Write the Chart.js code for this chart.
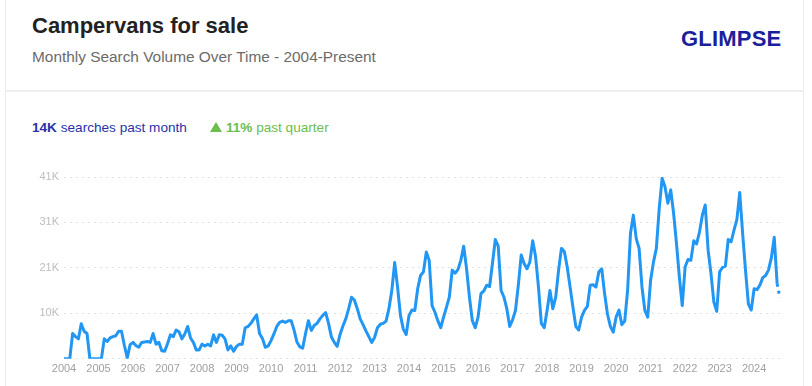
<!DOCTYPE html>
<html>
<head>
<meta charset="utf-8">
<script src="https://cdn.jsdelivr.net/npm/chart.js@4.4.1/dist/chart.umd.min.js"></script>
<style>
    body { margin: 0; width: 812px; height: 386px; overflow: hidden; background: #fff; font-family: "Liberation Sans", Arial, sans-serif; }
    .card { position: absolute; left: 5px; top: -2px; width: 797px; height: 392px; border-left: 1px solid #ebebeb; border-right: 1px solid #ebebeb; }
    .title { position: absolute; left: 32px; top: 15px; font-size: 22px; line-height: 22px; font-weight: bold; color: #222; }
    .subtitle { position: absolute; left: 32px; top: 49px; font-size: 15.4px; line-height: 16px; color: #6b6b6b; }
    .logo { position: absolute; left: 681px; top: 28px; font-size: 22px; line-height: 22px; font-weight: bold; color: #1c1f9c; letter-spacing: 0.2px; }
    .sep { position: absolute; left: 5px; top: 90px; width: 799px; height: 2px; background: #eeeeee; }
    .stats { position: absolute; left: 32px; top: 121px; font-size: 13.6px; line-height: 14px; white-space: nowrap; }
    .blue { color: #2633a8; }
    .green { color: #6bbd4e; margin-left: 23px; }
    .tri { display: inline-block; width: 0; height: 0; border-left: 6px solid transparent; border-right: 6px solid transparent; border-bottom: 10px solid #6bbd4e; margin-right: 4px; vertical-align: 0; }
    .chart-box { position: absolute; left: 0; top: 160px; width: 812px; height: 226px; }
</style>
</head>
<body>
<div class="card"></div>
<div class="title">Campervans for sale</div>
<div class="subtitle">Monthly Search Volume Over Time - 2004-Present</div>
<div class="logo">GLIMPSE</div>
<div class="sep"></div>
<div class="stats">
    <span class="blue"><b>14K</b> searches past month</span><span class="green"><span class="tri"></span><b>11%</b> past quarter</span>
</div>
<div class="chart-box"><canvas id="chart"></canvas></div>

<script>
// year labels on the x axis (one tick each January)
const yearLabels = ['2004', '2005', '2006', '2007', '2008', '2009', '2010', '2011', '2012', '2013', '2014',
    '2015', '2016', '2017', '2018', '2019', '2020', '2021', '2022', '2023', '2024']

// monthly search volume, in thousands, Jan 2004 - Oct 2024
const searches = [
    0, 0, 0, 5.7, 5.0, 4.5, 7.9, 6.2, 5.7, 0, 0, 0,
    0, 0, 4.5, 3.9, 4.7, 5.0, 5.2, 6.2, 6.2, 3.0, 0.2, 3.2,
    3.7, 3.0, 2.6, 3.7, 3.8, 3.9, 3.7, 5.7, 3.3, 3.7, 1.8, 1.7,
    3.4, 5.4, 5.0, 6.5, 6.1, 4.5, 5.6, 7.3, 4.7, 3.7, 2.0, 2.0,
    3.3, 2.9, 3.3, 2.9, 5.4, 3.7, 5.4, 5.3, 4.5, 2.0, 2.9, 1.7,
    2.8, 3.3, 3.3, 7.0, 7.3, 8.0, 9.0, 9.9, 5.7, 4.6, 2.6, 2.9,
    4.1, 5.6, 7.3, 8.2, 8.5, 8.2, 8.6, 8.6, 6.5, 3.8, 2.7, 2.4,
    5.7, 8.6, 6.4, 7.5, 8.0, 9.0, 9.8, 10.4, 8.0, 4.9, 3.7, 2.8,
    5.5, 7.4, 9.0, 11.3, 13.9, 13.2, 11.3, 9.0, 7.7, 6.3, 5.0, 3.7,
    4.8, 7.0, 7.8, 8.0, 8.5, 11.3, 15.4, 21.7, 16.2, 9.8, 6.7, 5.5,
    9.8, 11.0, 10.9, 15.8, 18.8, 19.6, 24.1, 22.2, 12.0, 10.5, 8.6, 7.0,
    9.4, 11.6, 13.9, 20.0, 19.3, 20.1, 22.2, 25.4, 20.3, 13.9, 8.6, 7.0,
    9.4, 14.7, 15.3, 16.6, 16.3, 21.5, 26.9, 25.4, 15.4, 13.9, 11.3, 7.3,
    8.8, 10.9, 16.6, 23.4, 21.5, 20.3, 21.8, 26.6, 23.0, 16.2, 8.0, 7.0,
    10.9, 15.4, 11.3, 13.9, 20.0, 24.9, 24.2, 20.7, 16.2, 11.6, 7.3, 6.5,
    9.4, 10.9, 11.8, 16.6, 16.7, 16.2, 19.6, 20.3, 14.7, 10.1, 7.3, 6.0,
    9.4, 11.0, 7.7, 8.5, 15.4, 28.3, 32.4, 27.1, 24.9, 16.2, 10.9, 9.4,
    17.7, 21.8, 24.9, 33.9, 40.7, 38.8, 35.1, 38.1, 32.8, 26.0, 18.5, 12.0,
    20.7, 22.4, 22.2, 26.6, 25.9, 28.6, 32.4, 34.7, 24.5, 19.2, 12.8, 10.7,
    19.6, 20.6, 20.9, 26.9, 26.4, 29.0, 31.4, 37.5, 28.3, 20.0, 12.4, 11.0,
    15.8, 15.6, 16.6, 18.3, 18.8, 20.0, 22.8, 27.4, 16.9, 13.8
]

// y axis ticks, in thousands
const yTicks = [0, 10.25, 20.5, 30.75, 41]

// one category per month
const monthLabels = yearLabels.flatMap(y => ['01', '02', '03', '04', '05', '06', '07', '08', '09', '10', '11', '12'].map(m => y + '-' + m))
    .slice(0, searches.length)

const lastIndex = searches.length - 1

const config = {
    type: 'line',
    data: {
        labels: monthLabels,
        datasets: [{
            data: searches,
            borderColor: '#2196f3',
            borderWidth: 3,
            borderJoinStyle: 'round',
            pointRadius: 0,
            tension: 0,
            fill: false,
            segment: {
                // the last month is not complete yet, drawn dotted
                borderDash: (ctx) => ctx.p1DataIndex === lastIndex ? [3, 4] : undefined
            }
        }]
    },
    options: {
        responsive: true,
        maintainAspectRatio: false,
        animation: false,
        layout: {
            padding: { top: 17, right: 32, bottom: 6, left: 0 }
        },
        plugins: {
            legend: { display: false },
            tooltip: { enabled: false }
        },
        scales: {
            x: {
                grid: { display: false, drawTicks: false },
                border: { display: false },
                ticks: {
                    autoSkip: false,
                    maxRotation: 0,
                    padding: 4,
                    color: '#a0a0a0',
                    font: { family: '"Liberation Sans", Arial, sans-serif', size: 11 },
                    callback: (value, index) => index % 12 === 0 ? yearLabels[index / 12] : null
                }
            },
            y: {
                min: 0,
                max: 41,
                afterBuildTicks: (scale) => { scale.ticks = yTicks.map(v => ({ value: v })) },
                afterFit: (scale) => { scale.width = 64 },
                grid: { color: '#e2e2e2', drawTicks: false },
                border: { display: false, dash: [2, 4] },
                ticks: {
                    padding: 5,
                    color: '#bdbdbd',
                    font: { family: '"Liberation Sans", Arial, sans-serif', size: 11 },
                    callback: (value) => value === 0 ? '' : Math.round(value) + 'K'
                }
            }
        }
    }
}

new Chart(document.getElementById('chart'), config)
</script>
</body>
</html>
